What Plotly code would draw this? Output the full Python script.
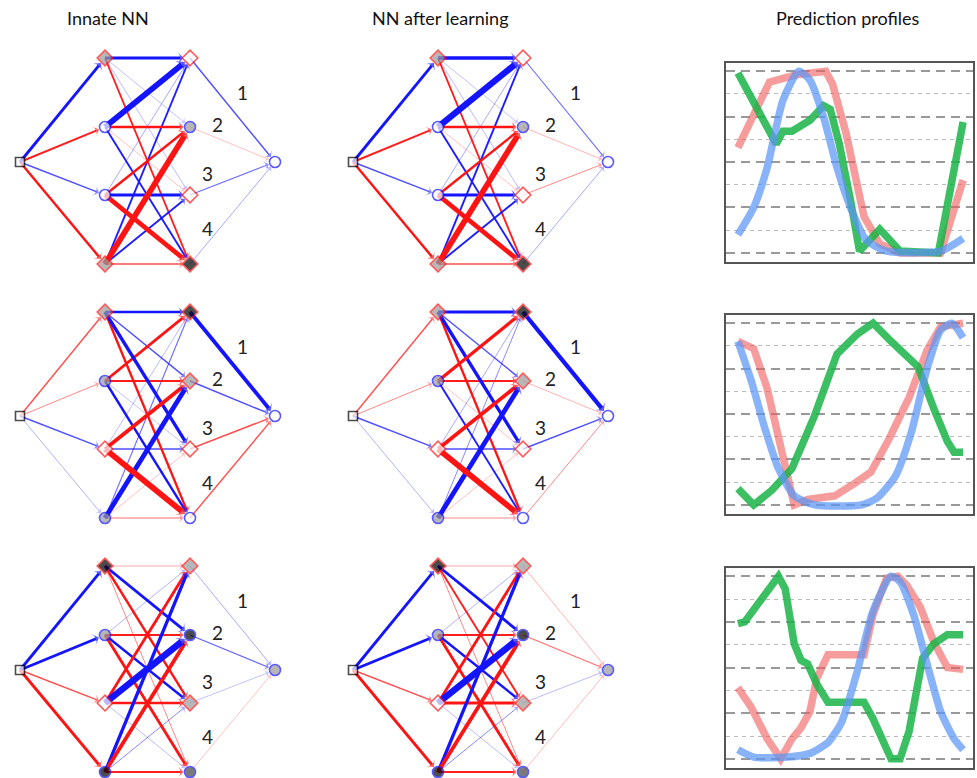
import math
import plotly.graph_objects as go

W, H = 977, 778

column_titles = ["Innate NN", "NN after learning", "Prediction profiles"]
neuron_labels = ["1", "2", "3", "4"]

# ---- network weights (positive = blue, negative = red; magnitude = strength) ----
r1_in_innate = [3, -2, 1.5, -2.5]
r1_hid_innate = [[3, 0.5, 0.6, -2], [6, -2.5, -0.5, 2], [0.8, -2.5, 3, -5], [2, -6, 2, -1.5]]
r1_out_innate = [1.5, -0.5, 1.2, 0.8]
r1_in_learned = [3, -2, 1.5, -2.5]
r1_hid_learned = [[3.5, 0.5, 0.6, -2], [6.5, -2.5, -0.5, 2], [0.8, -2.5, 3, -5], [2, -6, 2, -1.5]]
r1_out_learned = [1.2, -0.7, -1.0, 0.8]

r2_in_innate = [-1.5, -1, 1.5, 0.7]
r2_hid_innate = [[2.5, 1.5, 3.5, -2.5], [-3, -2, 0.5, 2.5], [0.6, -4, 1.5, -6], [1.2, 5, -0.5, -1.2]]
r2_out_innate = [4, 1.5, -1.5, -1.5]
r2_in_learned = [-1.5, -1, 1.5, 0.7]
r2_hid_learned = [[3, 1.5, 3.5, -2.5], [-3.5, -2, -0.5, 2], [0.8, -4, 1.5, -6], [1, 5, -0.5, -1]]
r2_out_learned = [4.5, -0.7, 1.5, -1]

r3_in_innate = [3, 3, -1.5, -3]
r3_hid_innate = [[-0.8, 3, -2.5, -1], [0.7, -2, 2.5, -3], [-3, 7, -2.5, 0.6], [3.5, -4, 1, -2]]
r3_out_innate = [0.8, 1.3, 0.5, -0.5]
r3_in_learned = [3, 3, -1.5, -3]
r3_hid_learned = [[-0.8, 3, -2, -1], [0.7, -2, 2.5, -3], [-3, 7, -3, 0.6], [3.5, -4, 1, -2]]
r3_out_learned = [-0.7, -1.2, 0.6, -0.6]

# node types: d = diamond, c = circle; fill w = white, g = gray, d = dark gray, k = black
r1_h1_nodes = ["dg", "cw", "cw", "dg"]
r1_h2_nodes = ["dw", "cg", "dw", "dk"]
r1_out_node = "cw"
r2_h1_nodes = ["dg", "cg", "dw", "cg"]
r2_h2_nodes = ["dk", "dg", "dw", "cw"]
r2_out_node = "cw"
r3_h1_nodes = ["dk", "cg", "dw", "ck"]
r3_h2_nodes = ["dg", "ck", "dg", "cd"]
r3_out_node = "cg"

# ---- prediction profiles ----
p1_t_red = [0, .14, .26, .39, .42, .48, .56, .63, .72, .9, 1.0]
p1_red = [.58, .94, .98, 1.0, .93, .66, .2, .05, 0, 0, .4]
p1_t_green = [0, .08, .17, .2, .24, .32, .38, .41, .45, .5, .54, .63, .72, .89, 1.0]
p1_green = [.99, .8, .6, .67, .67, .73, .81, .79, .6, .29, .01, .13, .01, 0, .72]
p1_t_blue = [0, .07, .13, .2, .27, .32, .38, .44, .5, .57, .66, .9, 1.0]
p1_blue = [.1, .25, .47, .84, 1.0, .95, .75, .47, .25, .07, .01, .01, .08]

p2_t_red = [0, .07, .13, .19, .25, .31, .43, .52, .59, .67, .76, .84, .9, 1.0]
p2_red = [.9, .86, .64, .31, 0, .03, .05, .12, .18, .36, .59, .85, .98, 1.0]
p2_t_green = [0, .07, .15, .24, .34, .44, .53, .6, .68, .8, .87, .93, .96, 1.0]
p2_green = [.09, 0, .08, .2, .49, .83, .94, 1.0, .9, .76, .53, .35, .29, .29]
p2_t_blue = [0, .06, .12, .18, .25, .34, .55, .62, .7, .77, .84, .9, .95, 1.0]
p2_blue = [.9, .68, .42, .2, .05, 0, 0, .04, .16, .4, .75, .96, 1.0, .92]

p3_t_red = [0, .06, .13, .19, .24, .28, .32, .35, .4, .56, .6, .66, .71, .75, .81, .87, .93, 1.0]
p3_red = [.39, .28, .11, 0, .11, .17, .26, .44, .57, .57, .79, .99, 1.0, .95, .83, .64, .5, .49]
p3_t_green = [0, .03, .18, .21, .25, .28, .31, .35, .4, .56, .6, .66, .68, .72, .76, .82, .87, .93, 1.0]
p3_green = [.74, .75, 1.0, .93, .63, .54, .52, .41, .31, .31, .22, .04, 0, 0, .15, .55, .63, .68, .68]
p3_t_blue = [0, .07, .22, .32, .4, .46, .53, .6, .68, .72, .78, .84, .9, .96, 1.0]
p3_blue = [.05, .01, .01, .03, .09, .2, .48, .81, 1.0, .97, .79, .52, .26, .11, .05]

# ---- layout constants (page pixels) ----
IN_X, H1_X, H2_X, OUT_X = 20, 105, 190, 275
LAYER_Y = [58, 127, 195, 264]
IN_Y = OUT_Y = 162
COL_OFF = [0, 333]
ROW_OFF = [0, 254, 508]
LABEL_POS = [(242, 92), (217, 124), (207, 173), (207, 228)]
BLUE = (20, 20, 255)
RED = (255, 20, 20)
FILLS = {"w": "white", "g": "#9a9a9a", "d": "#444444", "k": "black"}
FONT = "Lato, 'Open Sans', sans-serif"


def px_x(p):
    return p / W


def px_y(p):
    return 1 - p / H


fig = go.Figure()


def add_edge(x0, y0, x1, y1, w):
    dx, dy = x1 - x0, y1 - y0
    L = math.hypot(dx, dy)
    ux, uy = dx / L, dy / L
    tx, ty = x1 - ux * 6.5, y1 - uy * 6.5
    c = BLUE if w > 0 else RED
    a = min(1.0, max(0.22, 0.12 + 0.42 * abs(w)))
    col = "rgba(%d,%d,%d,%.2f)" % (c[0], c[1], c[2], a)
    fig.add_trace(go.Scatter(
        x=[x0, tx], y=[y0, ty], mode="lines+markers",
        line=dict(color=col, width=max(0.8, 0.95 * abs(w))),
        marker=dict(size=[0, 6 + 0.7 * abs(w)], symbol="arrow-wide", angleref="previous",
                    color=col, line=dict(width=0)),
        hoverinfo="skip", showlegend=False, xaxis="x", yaxis="y"))


networks = [
    (0, 0, r1_in_innate, r1_hid_innate, r1_out_innate, r1_h1_nodes, r1_h2_nodes, r1_out_node),
    (0, 1, r1_in_learned, r1_hid_learned, r1_out_learned, r1_h1_nodes, r1_h2_nodes, r1_out_node),
    (1, 0, r2_in_innate, r2_hid_innate, r2_out_innate, r2_h1_nodes, r2_h2_nodes, r2_out_node),
    (1, 1, r2_in_learned, r2_hid_learned, r2_out_learned, r2_h1_nodes, r2_h2_nodes, r2_out_node),
    (2, 0, r3_in_innate, r3_hid_innate, r3_out_innate, r3_h1_nodes, r3_h2_nodes, r3_out_node),
    (2, 1, r3_in_learned, r3_hid_learned, r3_out_learned, r3_h1_nodes, r3_h2_nodes, r3_out_node),
]

annotations = []
for row, col, w_in, w_hid, w_out, h1n, h2n, outn in networks:
    ox, oy = COL_OFF[col], ROW_OFF[row]
    edges = []
    for i in range(4):
        edges.append((ox + IN_X, oy + IN_Y, ox + H1_X, oy + LAYER_Y[i], w_in[i]))
    for i in range(4):
        for j in range(4):
            edges.append((ox + H1_X, oy + LAYER_Y[i], ox + H2_X, oy + LAYER_Y[j], w_hid[i][j]))
    for j in range(4):
        edges.append((ox + H2_X, oy + LAYER_Y[j], ox + OUT_X, oy + OUT_Y, w_out[j]))
    edges.sort(key=lambda e: abs(e[4]))
    for e in edges:
        add_edge(*e)
    xs, ys, syms, fills, lines, sizes = [], [], [], [], [], []
    xs.append(ox + IN_X); ys.append(oy + IN_Y); syms.append("square"); fills.append("white")
    lines.append("black"); sizes.append(9)
    allnodes = [(ox + H1_X, oy + LAYER_Y[k], h1n[k]) for k in range(4)] + \
               [(ox + H2_X, oy + LAYER_Y[k], h2n[k]) for k in range(4)] + \
               [(ox + OUT_X, oy + OUT_Y, outn)]
    for x, y, t in allnodes:
        xs.append(x); ys.append(y)
        if t[0] == "d":
            syms.append("diamond"); lines.append("rgb(255,20,20)"); sizes.append(12)
        else:
            syms.append("circle"); lines.append("rgb(20,20,255)"); sizes.append(11)
        fills.append(FILLS[t[1]])
    fig.add_trace(go.Scatter(
        x=xs, y=ys, mode="markers",
        marker=dict(symbol=syms, size=sizes, color=fills, line=dict(color=lines, width=1.6)),
        hoverinfo="skip", showlegend=False, xaxis="x", yaxis="y"))
    for k, (lx, ly) in enumerate(LABEL_POS):
        annotations.append(dict(x=ox + lx, y=oy + ly, xref="x", yref="y", text=neuron_labels[k],
                                showarrow=False, font=dict(size=19, color="#222", family=FONT)))

# ---- profiles ----
profiles = [
    (p1_t_red, p1_red, p1_t_green, p1_green, p1_t_blue, p1_blue),
    (p2_t_red, p2_red, p2_t_green, p2_green, p2_t_blue, p2_blue),
    (p3_t_red, p3_red, p3_t_green, p3_green, p3_t_blue, p3_blue),
]
BOX_X = (726, 973)
BOX_Y = [(63, 262), (315, 514), (568, 768)]
for r, (tr, vr, tg, vg, tb, vb) in enumerate(profiles):
    ax = str(r + 2)
    for t, v, c, shape in [(tr, vr, "rgba(240,90,90,0.6)", "linear"),
                           (tg, vg, "rgba(25,180,70,0.85)", "linear"),
                           (tb, vb, "rgba(90,150,245,0.72)", "spline")]:
        fig.add_trace(go.Scatter(x=t, y=v, mode="lines",
                                 line=dict(color=c, width=7.5, shape=shape, smoothing=0.6),
                                 hoverinfo="skip", showlegend=False,
                                 xaxis="x" + ax, yaxis="y" + ax))
    top, bot = BOX_Y[r]
    fig.layout["xaxis" + ax] = dict(domain=[px_x(BOX_X[0]), px_x(BOX_X[1])], range=[-0.053, 1.044],
                                    showgrid=False, zeroline=False, showticklabels=False, ticks="",
                                    showline=True, mirror=True, linecolor="#555", linewidth=2,
                                    anchor="y" + ax)
    fig.layout["yaxis" + ax] = dict(domain=[px_y(bot), px_y(top)], range=[-0.05, 1.045],
                                    showgrid=True, gridcolor="#999", gridwidth=2, griddash="9px,6px",
                                    dtick=0.25, tick0=0,
                                    minor=dict(dtick=0.125, tick0=0, showgrid=True, gridcolor="#bbb",
                                               gridwidth=1.2, griddash="4px,4px"),
                                    zeroline=False, showticklabels=False, ticks="",
                                    showline=True, mirror=True, linecolor="#555", linewidth=2,
                                    anchor="x" + ax)

title_x = [108, 440, 848]
for k, t in enumerate(column_titles):
    annotations.append(dict(x=px_x(title_x[k]), y=px_y(18), xref="paper", yref="paper", text=t,
                            xanchor="center", yanchor="middle",
                            showarrow=False, font=dict(size=18, color="#111", family=FONT)))

fig.update_layout(
    width=W, height=H, margin=dict(l=0, r=0, t=0, b=0),
    paper_bgcolor="white", plot_bgcolor="white",
    xaxis=dict(domain=[0, 1], range=[0, W], visible=False, fixedrange=True),
    yaxis=dict(domain=[0, 1], range=[H, 0], visible=False, fixedrange=True),
    annotations=annotations,
)

fig.write_html("out.html",
               config={"displayModeBar": False},
               post_script="document.body.style.margin='0px';"
                           "document.documentElement.style.overflow='hidden';")
